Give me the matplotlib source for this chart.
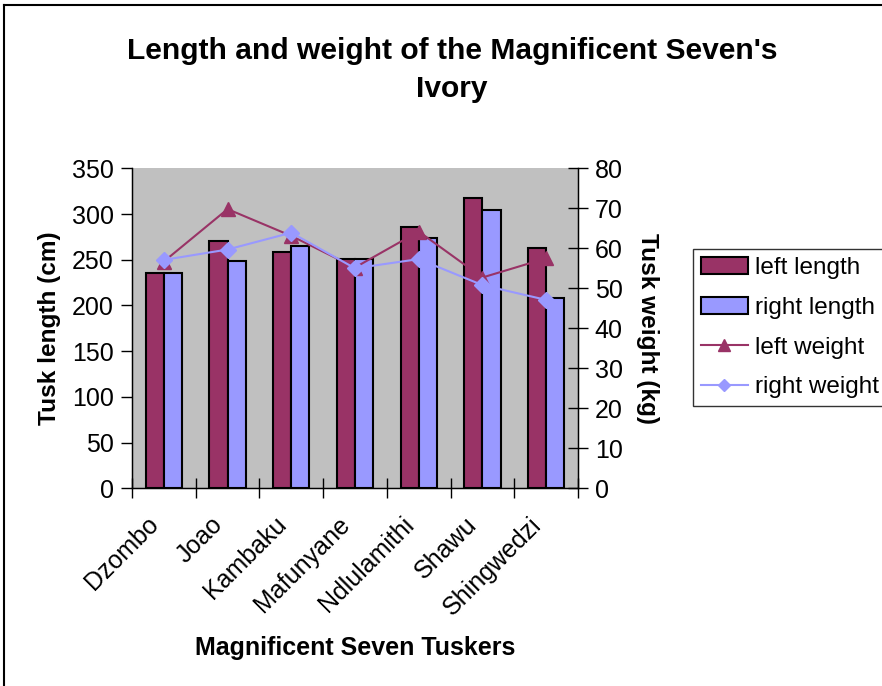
import matplotlib
matplotlib.use("Agg")
import matplotlib.pyplot as plt
import matplotlib.transforms as mtransforms
from matplotlib.patches import Patch
from matplotlib.lines import Line2D
import numpy as np

plt.rcParams['font.family'] = ['Liberation Sans', 'DejaVu Sans']

tuskers = ["Dzombo", "Joao", "Kambaku", "Mafunyane", "Ndlulamithi", "Shawu", "Shingwedzi"]
left_length = [236, 271, 259, 251, 286, 317, 263]
right_length = [236, 249, 265, 251, 274, 304, 208]
left_weight = [56.7, 69.8, 63.1, 55.2, 64.2, 52.7, 57.5]
right_weight = [57.1, 59.7, 63.9, 55.0, 57.3, 50.8, 47.1]

maroon = "#993366"
lav = "#9999FF"

fig = plt.figure(figsize=(8.82, 6.86), dpi=100)
W, H = 882, 686
ax = fig.add_axes([132 / W, 1 - 488.3 / H, (578 - 132) / W, (488.3 - 168.3) / H])
ax.set_facecolor("#C0C0C0")

x = np.arange(len(tuskers))
bw = 1 / 3.5
ax.bar(x - bw / 2, left_length, bw, color=maroon, edgecolor="black", linewidth=1.5, zorder=2)
ax.bar(x + bw / 2, right_length, bw, color=lav, edgecolor="black", linewidth=1.5, zorder=2)
ax.set_xlim(-0.5, len(tuskers) - 0.5)
ax.set_ylim(0, 350)
ax.set_yticks(np.arange(0, 351, 50))
ax.tick_params(axis="y", direction="out", length=8, width=1, labelsize=18, pad=5)

ax.set_xticks(x)
ax.set_xticks(np.arange(-0.5, len(tuskers), 1), minor=True)
ax.tick_params(axis="x", which="major", length=0, labelsize=18, pad=22)
ax.tick_params(axis="x", which="minor", direction="inout", length=14, width=1)
labels = ax.set_xticklabels(tuskers, rotation=45, ha="right", va="center", rotation_mode="anchor")
offset = mtransforms.ScaledTranslation(-9 / 100, -2 / 100, fig.dpi_scale_trans)
for lab in labels:
    lab.set_transform(lab.get_transform() + offset)

for s in ax.spines.values():
    s.set_linewidth(1)
ax.spines["top"].set_visible(False)

ax.set_ylabel("Tusk length (cm)", fontsize=17.6, fontweight="bold", labelpad=8)
ax.set_xlabel("Magnificent Seven Tuskers", fontsize=18, fontweight="bold", labelpad=12)

ax2 = ax.twinx()
ax2.plot(x, left_weight, color=maroon, linewidth=1.5, marker="^", markersize=10, zorder=3)
ax2.plot(x, right_weight, color=lav, linewidth=1.5, marker="D", markersize=8, zorder=3)
ax2.set_ylim(0, 80)
ax2.set_yticks(np.arange(0, 81, 10))
ax2.tick_params(axis="y", direction="inout", length=14, width=1, labelsize=18, pad=5)
ax2.spines["top"].set_visible(False)
ax2.set_ylabel("Tusk weight (kg)", fontsize=17.6, fontweight="bold", rotation=-90, labelpad=26)

fig.text(452 / W, 1 - 70 / H, "Length and weight of the Magnificent Seven's\nIvory",
         ha="center", va="center", fontsize=21.6, fontweight="bold", linespacing=1.45)

handles = [
    Patch(facecolor=maroon, edgecolor="black", linewidth=1.5, label="left length"),
    Patch(facecolor=lav, edgecolor="black", linewidth=1.5, label="right length"),
    Line2D([], [], color=maroon, marker="^", markersize=9, linewidth=1.5, label="left weight"),
    Line2D([], [], color=lav, marker="D", markersize=6, linewidth=1.5, label="right weight"),
]
leg = fig.legend(handles=handles, loc="upper left", bbox_to_anchor=(693 / W, 1 - 249 / H),
                 fontsize=17.5, frameon=True, fancybox=False, edgecolor="black",
                 borderpad=0.33, labelspacing=0.73, handlelength=1.93, handletextpad=0.3,
                 borderaxespad=0)
leg.get_frame().set_linewidth(1)

# outer chart frame
fig.add_artist(Line2D([3.5 / W, 3.5 / W], [0, 1 - 4.5 / H], color="black", linewidth=1.5, transform=fig.transFigure))
fig.add_artist(Line2D([3.5 / W, 1], [1 - 4.5 / H, 1 - 4.5 / H], color="black", linewidth=1.5, transform=fig.transFigure))

fig.savefig("out.png", dpi=100)
